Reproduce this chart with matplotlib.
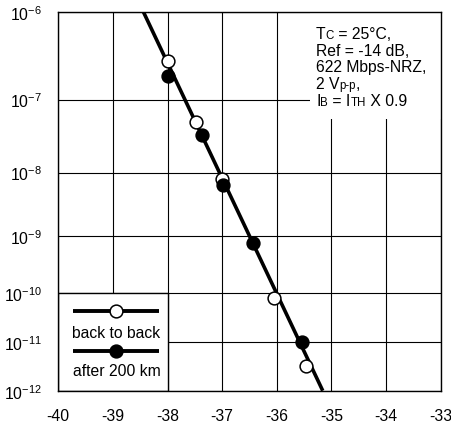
import numpy as np
import matplotlib
matplotlib.use("Agg")
import matplotlib.pyplot as plt
from matplotlib.patches import Rectangle
from matplotlib.ticker import NullLocator, FixedLocator, FixedFormatter
from matplotlib.transforms import IdentityTransform

plt.rcParams["font.family"] = ["Liberation Sans", "DejaVu Sans"]
plt.rcParams["mathtext.fontset"] = "custom"
plt.rcParams["mathtext.rm"] = "Liberation Sans"
plt.rcParams["mathtext.it"] = "Liberation Sans:italic"
plt.rcParams["axes.unicode_minus"] = False

# ---- data ----
x_ticks = [-40, -39, -38, -37, -36, -35, -34, -33]
x_tick_labels = ["-40", "-39", "-38", "-37", "-36", "-35", "-34", "-33"]
y_ticks = [1e-12, 1e-11, 1e-10, 1e-9, 1e-8, 1e-7, 1e-6]
y_tick_labels = [r"10$^{-12}$", r"10$^{-11}$", r"10$^{-10}$", r"10$^{-9}$",
                 r"10$^{-8}$", r"10$^{-7}$", r"10$^{-6}$"]

# axis scale (BER paper, decade spacing as printed)
scale_exp = [-12, -11, -10, -9, -8, -7, -6]
scale_pos = [0.0, 48.4, 97.4, 155.0, 218.2, 291.2, 379.0]

back_x = [-38.0, -37.47, -37.0, -36.05, -35.46]
back_y = [2.74e-7, 4.9e-8, 7.9e-9, 8.0e-11, 3.3e-12]
after_x = [-38.0, -37.37, -36.98, -36.44, -35.54]
after_y = [1.83e-7, 3.3e-8, 6.3e-9, 7.4e-10, 1.0e-11]
fit_x = [-38.443, -35.157]
fit_y = [1e-6, 1e-12]

legend_labels = ["back to back", "after 200 km"]


def fwd(y):
    y = np.clip(np.asarray(y, dtype=float), 1e-300, None)
    return np.interp(np.log10(y), scale_exp, scale_pos)


def inv(u):
    return 10.0 ** np.interp(np.asarray(u, dtype=float), scale_pos, scale_exp)


W, H = 451, 427
fig = plt.figure(figsize=(W / 100, H / 100), dpi=100)
L, R, T, B = 58.3, 440.5, 12.7, 391.7
ax = fig.add_axes([L / W, 1 - B / H, (R - L) / W, (B - T) / H])

ax.set_yscale("function", functions=(fwd, inv))
ax.set_xlim(-40, -33)
ax.set_ylim(1e-12, 1e-6)
ax.xaxis.set_major_locator(FixedLocator(x_ticks))
ax.xaxis.set_major_formatter(FixedFormatter(x_tick_labels))
ax.yaxis.set_major_locator(FixedLocator(y_ticks))
ax.yaxis.set_major_formatter(FixedFormatter(y_tick_labels))
ax.xaxis.set_minor_locator(NullLocator())
ax.yaxis.set_minor_locator(NullLocator())
ax.tick_params(axis="both", length=0, labelsize=11.3, colors="black")
ax.tick_params(axis="x", pad=12.5)
ax.tick_params(axis="y", pad=12.0)
ax.set_axisbelow(True)
ax.grid(True, color="black", linewidth=0.8)
for s in ax.spines.values():
    s.set_linewidth(1.0)
    s.set_color("black")
    s.set_zorder(5)

# white area behind annotation text (top right)
ax.add_patch(Rectangle(((310 - L) / (R - L), 1 - (120 - T) / (B - T)),
                       (R - 310) / (R - L), (120 - T) / (B - T),
                       transform=ax.transAxes, facecolor="white",
                       edgecolor="none", zorder=1.5))

# legend box (bottom left)
lx0, lx1 = L, 168.3
ly0, ly1 = 294.3, B
ax.add_patch(Rectangle((0, 0), (lx1 - L) / (R - L), (B - ly0) / (B - T),
                       transform=ax.transAxes, facecolor="white",
                       edgecolor="black", linewidth=1.0, zorder=1.5))

def axfx(px):
    return (px - L) / (R - L)

def axfy(py):
    return (B - py) / (B - T)

# main fit line and markers
ax.plot(fit_x, fit_y, color="black", linewidth=2.6, zorder=3, solid_capstyle="butt")
ax.plot(back_x, back_y, linestyle="none", marker="o", markersize=9.2,
        markerfacecolor="white", markeredgecolor="black", markeredgewidth=1.1, zorder=4)
ax.plot(after_x, after_y, linestyle="none", marker="o", markersize=9.2,
        markerfacecolor="black", markeredgecolor="black", markeredgewidth=1.1, zorder=4)

# legend entries
for (py_line, py_text, face, lab) in [(312, 333, "white", legend_labels[0]),
                                      (352, 372, "black", legend_labels[1])]:
    ax.plot([axfx(73), axfx(159)], [axfy(py_line)] * 2, transform=ax.transAxes,
            color="black", linewidth=2.8, zorder=3, solid_capstyle="butt")
    ax.plot([axfx(116)], [axfy(py_line)], transform=ax.transAxes, marker="o",
            markersize=9.2, markerfacecolor=face, markeredgecolor="black",
            markeredgewidth=1.1, zorder=4, linestyle="none")
    ax.text(axfx(116.5), axfy(py_text), lab, transform=ax.transAxes,
            ha="center", va="center", fontsize=11.3, zorder=6)

# annotation text with small-cap style subscripts
fig.canvas.draw()
renderer = fig.canvas.get_renderer()
BIG, SMALL = 11.3, 8.3


def width(s, size):
    t1 = fig.text(0, 0, "|" + s + "|", fontsize=size)
    t2 = fig.text(0, 0, "||", fontsize=size)
    w = t1.get_window_extent(renderer).width - t2.get_window_extent(renderer).width
    t1.remove()
    t2.remove()
    return w


lines = [
    (39.5, [("T", BIG), ("C", SMALL), (" = 25°C,", BIG)]),
    (56.0, [("Ref = -14 dB,", BIG)]),
    (72.5, [("622 Mbps-NRZ,", BIG)]),
    (89.0, [("2 V", BIG), ("p-p", SMALL), (",", BIG)]),
    (106.0, [("I", BIG), ("B", SMALL), (" = I", BIG), ("TH", SMALL), (" X 0.9", BIG)]),
]
x0 = 316.0
for base_y, runs in lines:
    x = x0
    for s, size in runs:
        fig.text(x, H - base_y, s, fontsize=size, transform=IdentityTransform(),
                 ha="left", va="baseline", zorder=6)
        x += width(s, size)

fig.savefig("out.png", dpi=100)
